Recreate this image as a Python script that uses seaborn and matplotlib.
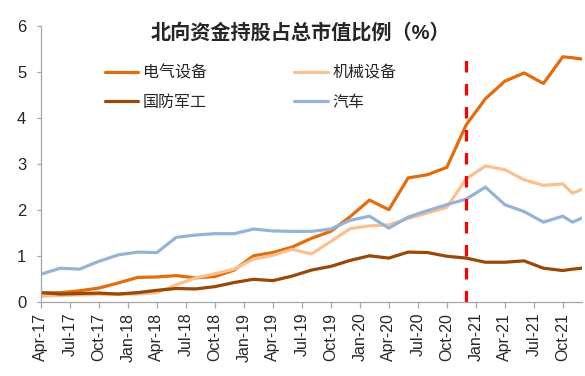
import pandas as pd
import matplotlib
matplotlib.use('Agg')
import matplotlib.pyplot as plt
import seaborn as sns

# 数据：北向资金持股占总市值比例（%），约每两个月一个点
dates = ['2017-04', '2017-06', '2017-08', '2017-10', '2017-12', '2018-02',
         '2018-04', '2018-06', '2018-08', '2018-10', '2018-12', '2019-02',
         '2019-04', '2019-06', '2019-08', '2019-10', '2019-12', '2020-02',
         '2020-04', '2020-06', '2020-08', '2020-10', '2020-12', '2021-02',
         '2021-04', '2021-06', '2021-08', '2021-10', '2021-11', '2021-12']

elec = [0.20, 0.21, 0.25, 0.31, 0.42, 0.54, 0.55, 0.58, 0.53, 0.56, 0.70, 1.01,
        1.08, 1.20, 1.39, 1.54, 1.86, 2.22, 2.01, 2.70, 2.77, 2.93, 3.85, 4.42,
        4.80, 4.98, 4.75, 5.33, 5.31, 5.28]
mech = [0.13, 0.15, 0.16, 0.17, 0.17, 0.18, 0.21, 0.38, 0.53, 0.62, 0.72, 0.94,
        1.02, 1.15, 1.05, 1.32, 1.60, 1.66, 1.68, 1.82, 1.94, 2.06, 2.68, 2.96,
        2.88, 2.66, 2.54, 2.57, 2.37, 2.45]
defense = [0.21, 0.18, 0.19, 0.20, 0.18, 0.21, 0.26, 0.30, 0.29, 0.34, 0.43, 0.50,
           0.47, 0.57, 0.70, 0.78, 0.91, 1.01, 0.96, 1.09, 1.08, 1.00, 0.96, 0.87,
           0.87, 0.90, 0.74, 0.69, 0.72, 0.74]
auto = [0.61, 0.74, 0.72, 0.89, 1.03, 1.09, 1.08, 1.41, 1.46, 1.49, 1.49, 1.59,
        1.55, 1.54, 1.54, 1.59, 1.78, 1.87, 1.61, 1.85, 1.99, 2.12, 2.24, 2.50,
        2.12, 1.97, 1.74, 1.87, 1.74, 1.83]

tick_labels = ['Apr-17', 'Jul-17', 'Oct-17', 'Jan-18', 'Apr-18', 'Jul-18', 'Oct-18',
               'Jan-19', 'Apr-19', 'Jul-19', 'Oct-19', 'Jan-20', 'Apr-20', 'Jul-20',
               'Oct-20', 'Jan-21', 'Apr-21', 'Jul-21', 'Oct-21']

cutoff_date = '2020-12'
cutoff_top = 5.4


def month_index(d):
    y, m = map(int, d.split('-'))
    return (y - 2017) * 12 + (m - 4)


x = [month_index(d) for d in dates]
series = {'电气设备': elec, '机械设备': mech, '国防军工': defense, '汽车': auto}
df = pd.concat([pd.DataFrame({'月': x, '比例': v, '行业': k}) for k, v in series.items()],
               ignore_index=True)

palette = {'电气设备': '#E46C0A', '机械设备': '#FAC090',
           '国防军工': '#984807', '汽车': '#95B3D7'}

sns.set_style('ticks')
plt.rcParams['font.family'] = ['Liberation Sans', 'Noto Sans CJK SC']

fig = plt.figure(figsize=(5.85, 3.76), dpi=100)
ax = fig.add_axes([0.070, 0.196, 0.925, 0.735])

sns.lineplot(data=df, x='月', y='比例', hue='行业', palette=palette,
             linewidth=2.3, sort=False, ax=ax)

cx = month_index(cutoff_date)
ax.plot([cx, cx], [0, cutoff_top], color='#FF0000', lw=2.3, dashes=(3.6, 3.6),
        solid_capstyle='butt')

ax.set_xlim(0, 56)
ax.set_ylim(0, 6)
ax.set_xticks([3 * i for i in range(len(tick_labels))])
ax.set_xticklabels(tick_labels, rotation=90, fontsize=11.5)
ax.set_yticks(range(7))
ax.set_yticklabels([str(i) for i in range(7)], fontsize=12)
ax.set_xlabel('')
ax.set_ylabel('')

sns.despine(ax=ax)
for s in ['left', 'bottom']:
    ax.spines[s].set_color('#A6A6A6')
    ax.spines[s].set_linewidth(0.9)
ax.tick_params(axis='y', direction='out', length=3, width=0.9, color='#A6A6A6', pad=7.5)
ax.tick_params(axis='x', direction='out', length=4, width=0.9, color='#A6A6A6', pad=3.5)

# 图例按行排列：第一行 电气设备、机械设备；第二行 国防军工、汽车
handles, labels = ax.get_legend_handles_labels()
lookup = dict(zip(labels, handles))
order = ['电气设备', '国防军工', '机械设备', '汽车']
ax.legend([lookup[k] for k in order], order, ncol=2, frameon=False, loc='upper left',
          bbox_to_anchor=(0.179, 0.827), bbox_transform=fig.transFigure,
          borderpad=0, borderaxespad=0, fontsize=11.5, handlelength=2.1,
          handletextpad=0.3, columnspacing=5.45, labelspacing=0.9)

fig.text(0.513, 0.912, '北向资金持股占总市值比例（%）', ha='center', va='center',
         fontsize=14.5, fontweight='bold')

fig.savefig('out.png', dpi=100)
